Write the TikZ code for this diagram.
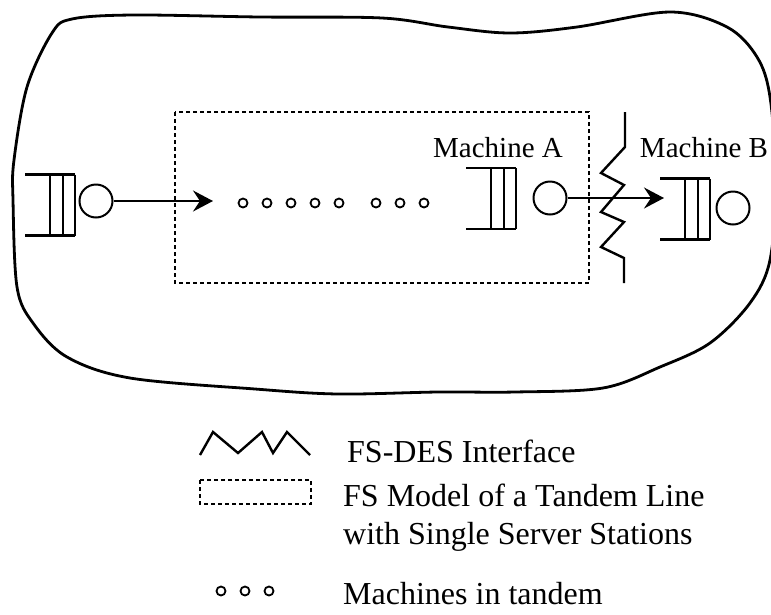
\documentclass[tikz,border=0pt]{standalone}
\usepackage{fontspec}
\setmainfont{Liberation Serif}
\usetikzlibrary{arrows.meta}

\tikzset{
  server/.style={circle, draw, line width=2pt, minimum size=33pt, inner sep=0pt},
  machine/.style={circle, draw, line width=1.8pt, minimum size=9pt, inner sep=0pt},
  label/.style={inner sep=0pt, anchor=base, font=\fontsize{29}{34}\selectfont},
  legend/.style={inner sep=0pt, anchor=base west, font=\fontsize{32}{38}\selectfont},
  flow/.style={line width=2.2pt, -{Stealth[length=20pt, width=21pt, inset=7pt]}},
  fsbox/.style={line width=2.2pt, dash pattern=on 4pt off 3pt},
  queue/.pic={
    \draw[line width=2.4pt] (-25,-30.5) -- (25,-30.5) (-25,30.5) -- (25,30.5);
    \draw[line width=2.2pt] (0,-30.5) -- (0,30.5) (13,-30.5) -- (13,30.5) (25,-30.5) -- (25,30.5);
  }
}

\begin{document}
\begin{tikzpicture}[x=1pt, y=-1pt]
    \useasboundingbox (0,0) rectangle (771,614);

    \draw[line width=2.8pt] plot[smooth cycle, tension=0.55] coordinates {
        (13,200) (17,287) (33,323) (67,357) (130,378) (255,389) (338,394)
        (438,392) (515,392) (603,388) (660,367) (710,343) (750,303) (770,260)
        (776,180) (770,97) (757,57) (727,27) (670,12) (577,27) (510,33)
        (448,27) (382,18) (260,17) (133,15) (72,19) (52,33) (27,87) (14,160)};

    \draw[fsbox] (175,112) rectangle (589,283);

    \pic at (50,205) {queue};
    \node[server] (srvIn) at (96,201) {};
    \coordinate (entry) at (213,201);
    \draw[flow] (srvIn) -- (entry);

    \foreach \x [count=\i] in {243,267,291,315,339,376,400,424}
        \node[machine] (m\i) at (\x,203) {};

    \pic at (491,198.5) {queue};
    \node[server] (srvA) at (550,198) {};
    \node[label] (labA) at (498,157) {Machine A};

    \pic at (685,209) {queue};
    \node[server] (srvB) at (733,208) {};
    \node[label] (labB) at (704,157) {Machine B};
    \coordinate (inB) at (664,198);
    \draw[flow] (srvA) -- (inB);

    \draw[line width=2.4pt] (625,112) -- (625,147) -- (601,173) -- (624,185) -- (601,212)
        -- (624,222) -- (601,247) -- (624,258) -- (624,283);

    \draw[line width=2.4pt] (200,455) -- (213,432) -- (238,453) -- (262,432) -- (273,453)
        -- (287,432) -- (310,455);
    \node[legend] (legIf) at (347,462) {FS-DES Interface};

    \draw[fsbox, line width=1.8pt] (200,480) rectangle (311,504);
    \node[legend] (legFs) at (343,506) {FS Model of a Tandem Line};
    \node[legend] (legSs) at (343,544) {with Single Server Stations};

    \foreach \x [count=\i] in {221,245,269}
        \node[machine] (k\i) at (\x,591) {};
    \node[legend] (legMt) at (343,604) {Machines in tandem};
\end{tikzpicture}
\end{document}
